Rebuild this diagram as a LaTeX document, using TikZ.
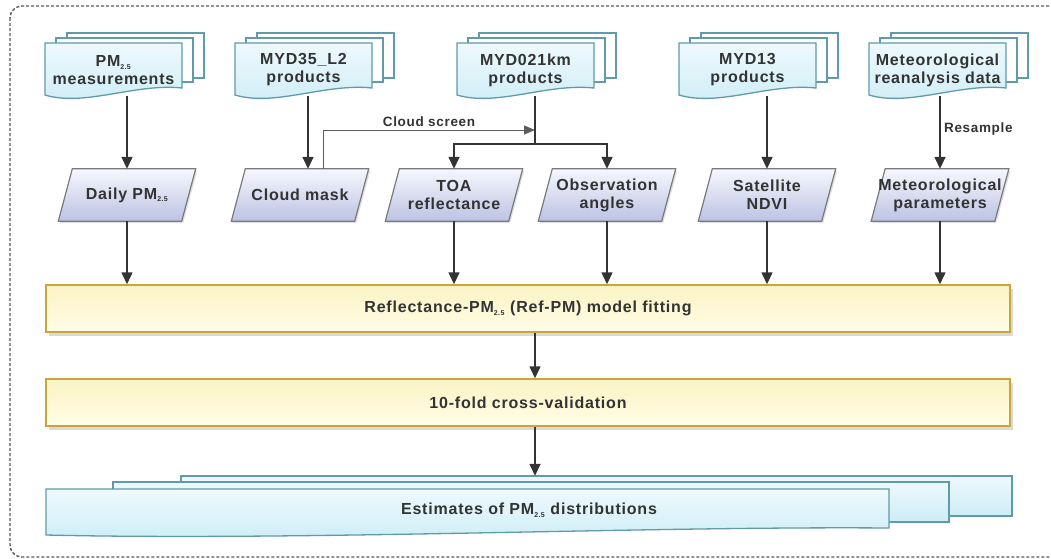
\documentclass[tikz,border=0pt]{standalone}
\usepackage{fontspec}
\setmainfont{Liberation Sans}[LetterSpace=5]
\usepackage{tikz}
\usetikzlibrary{arrows.meta, shadows, backgrounds}
\definecolor{scuro}{HTML}{333333}
\definecolor{docbordo}{HTML}{5F9BA8}
\definecolor{docalto}{HTML}{EEF9FD}
\definecolor{docbasso}{HTML}{CDEDF6}
\definecolor{parabordo}{HTML}{7A7A7A}
\definecolor{paraalto}{HTML}{F6F7FC}
\definecolor{parabasso}{HTML}{BCC3E4}
\definecolor{oro}{HTML}{C9A63C}
\definecolor{gialloalto}{HTML}{FBF3C4}
\definecolor{giallobasso}{HTML}{FFFDE6}
\newcommand{\testo}{\fontsize{16}{18}\selectfont\bfseries}
\newcommand{\pmd}{PM\textsubscript{\fontsize{7}{7}\selectfont 2.5}}
% pila di documenti: #1 nome, #2 x sinistra, #3 y alto, #4 testo
\newcommand{\documento}[4]{
\filldraw[pagina, fill=white] ({#2+22},{#3-10}) rectangle ({#2+159},{#3+35});
\filldraw[pagina, fill=white] ({#2+11},{#3-5}) rectangle ({#2+148},{#3+39});
\path[pagina, draw, top color=docalto, bottom color=docbasso] (#2,#3) -- ({#2+137},#3) -- ({#2+137},{#3+45}) .. controls ({#2+90},{#3+40}) and ({#2+40},{#3+64}) .. (#2,{#3+52}) -- cycle;
\node[doctesto] (#1) at ({#2+68.5},{#3+27}) {#4};
}

\begin{document}
\begin{tikzpicture}[x = 1pt, y = -1pt,
    pagina/.style = {draw = docbordo, line width = 1.3pt},
    doctesto/.style = {align = center, font = \testo, text = scuro, minimum width = 137pt, minimum height = 52pt, inner sep = 0pt},
    parallelo/.style = {rectangle, minimum width = 123pt, minimum height = 52pt, inner sep = 0pt,
        align = center, font = \testo, text = scuro},
    forma/.style = {draw = parabordo, line width = 1.2pt, top color = paraalto, bottom color = parabasso,
        drop shadow = {shadow xshift = 1.5pt, shadow yshift = -2pt, opacity = 0.25}},
    modello/.style = {rectangle, minimum width = 964pt, minimum height = 47pt, draw = oro, line width = 1.5pt,
        top color = gialloalto, bottom color = giallobasso, font = \testo, text = scuro,
        drop shadow = {shadow xshift = 3pt, shadow yshift = -4pt, opacity = 0.3}},
    freccia/.style = {-{Triangle[length = 12pt, width = 11pt]}, line width = 1.5pt, draw = scuro},
    schermo/.style = {-{Triangle[length = 11pt, width = 9pt]}, line width = 1pt, draw = scuro!80},
    etichetta/.style = {font = \fontsize{13.5}{15}\selectfont\bfseries, text = scuro}]
    \clip (0,0) rectangle (1051,558);
    % Cornice
    \draw[dash pattern = on 3pt off 2pt, line width = 1.4pt, draw = black!65, rounded corners = 12pt] (10,6) rectangle (1090,557);
    % Documenti in ingresso
    \documento{pm}{45}{43}{\pmd\\measurements}
    \documento{myds}{235}{43}{MYD35\_L2\\products}
    \documento{mydk}{457}{43}{MYD021km\\products}
    \documento{mydn}{679}{43}{MYD13\\products}
    \documento{meteo}{869}{43}{Meteorological\\reanalysis data}
    % Dati intermedi
    \node[parallelo] (daily) at (127,195) {Daily \pmd};
    \node[parallelo] (cloud) at (300,195) {Cloud mask};
    \node[parallelo] (toa) at (454,195) {TOA\\reflectance};
    \node[parallelo] (obs) at (607,195) {Observation\\angles};
    \node[parallelo] (ndvi) at (767,195) {Satellite\\NDVI};
    \node[parallelo] (metpar) at (940,195) {Meteorological\\parameters};
    \begin{scope}[on background layer]
        \foreach \n in {daily, cloud, toa, obs, ndvi, metpar}
            \path[forma] ([xshift = -7pt]\n.south west) -- ([xshift = -7pt]\n.south east)
                -- ([xshift = 7pt]\n.north east) -- ([xshift = 7pt]\n.north west) -- cycle;
    \end{scope}
    % Modello
    \node[modello] (fit) at (528,308.5) {Reflectance-\pmd{} (Ref-PM) model fitting};
    \node[modello] (cv) at (528,402.5) {10-fold cross-validation};
    % Stime
    \filldraw[pagina, top color = docalto, bottom color = docbasso] (181,476) rectangle (1012,516);
    \filldraw[pagina, top color = docalto, bottom color = docbasso] (113,482) rectangle (949,522);
    \path[pagina, draw, top color = docalto, bottom color = docbasso] (46,489) -- (889,489) -- (889,528) .. controls (650,526) and (300,541) .. (46,535) -- cycle;
    \node[doctesto, minimum height = 68pt] (stime) at (529,510) {Estimates of \pmd{} distributions};
    % Frecce
    \coordinate (nodo) at (535,144);
    \coordinate (schermo) at (535,130);
    \coordinate (cmfreccia) at ([xshift = 8pt]cloud.north);
    \coordinate (cmschermo) at ([xshift = 23pt]cloud.north);
    \draw[freccia] (daily.north |- pm.south) -- (daily.north);
    \draw[freccia] (cmfreccia |- myds.south) -- (cmfreccia);
    \draw[schermo] (cmschermo) |- node[pos = 0.75, above, etichetta]{Cloud screen} (schermo);
    \draw[line width = 1.5pt, draw = scuro] (nodo |- mydk.south) -- (nodo);
    \draw[freccia] (nodo) -| (toa.north);
    \draw[freccia] (nodo) -| (obs.north);
    \draw[freccia] (ndvi.north |- mydn.south) -- (ndvi.north);
    \draw[freccia] (metpar.north |- meteo.south) -- node[pos = 0.45, right, etichetta]{Resample} (metpar.north);
    \foreach \n in {daily, toa, obs, ndvi, metpar}
        \draw[freccia] (\n.south) -- (\n.south |- fit.north);
    \draw[freccia] (fit.south -| nodo) -- (cv.north -| nodo);
    \draw[freccia] (cv.south -| nodo) -- (stime.north -| nodo);
\end{tikzpicture}
\end{document}
